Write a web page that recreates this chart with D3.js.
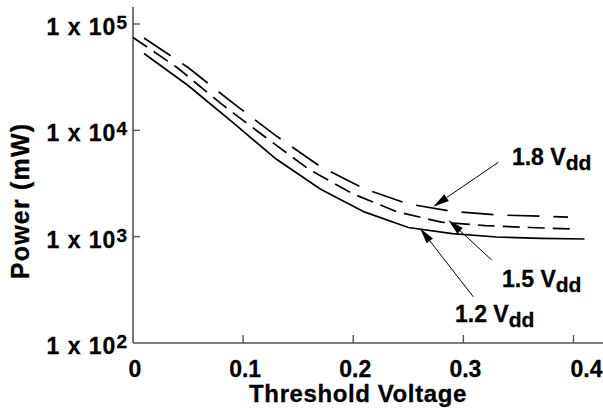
<!DOCTYPE html>
<html>
<head>
<meta charset="utf-8">
<script src="https://cdn.jsdelivr.net/npm/d3@7"></script>
<style>
  body { margin: 0; background: #fff; }
  svg text { font-family: "Liberation Sans", Arial, Helvetica, sans-serif; font-weight: bold; fill: #000; stroke: #000; stroke-width: 0.3px; }
</style>
</head>
<body>
<div id="chart"></div>
<script>
// series (threshold voltage vs power in mW)
const vt12 = [0.01, 0.05, 0.09, 0.13, 0.17, 0.21, 0.25, 0.29, 0.33, 0.37, 0.41];
const power12 = [52800, 26400, 12000, 5370, 2810, 1710, 1220, 1070, 993, 962, 951];
const vt15 = [0.00, 0.04, 0.08, 0.12, 0.16, 0.20, 0.24, 0.28, 0.32, 0.36, 0.40];
const power15 = [74700, 39000, 17800, 8650, 4280, 2520, 1710, 1370, 1270, 1220, 1180];
const vt18 = [0.01, 0.05, 0.09, 0.13, 0.17, 0.21, 0.25, 0.29, 0.33, 0.37, 0.395];
const power18 = [73800, 39000, 18300, 8860, 4570, 2820, 2030, 1730, 1600, 1560, 1530];

const xTicks = [0, 0.1, 0.2, 0.3, 0.4];
const xTickLabels = ['0', '0.1', '0.2', '0.3', '0.4'];
const yTicks = [100, 1000, 10000, 100000];
const yExponents = ['2', '3', '4', '5'];

const labels = ['1.2', '1.5', '1.8'];
// arrow tail / tip and label anchor, in data units
const arrowTail = [[0.309, 272], [0.3257, 604], [0.3317, 5000]];
const arrowTip = [[0.2606, 1200], [0.2863, 1435], [0.2727, 1915]];
const labelAt = [[0.2924, 157], [0.3351, 336], [0.3441, 4720]];

document.addEventListener('DOMContentLoaded', () => {
    const fullWidth = 603
    const fullHeight = 409
    const left = 133
    const bottom = 343

    const svg = d3.select('#chart')
        .append('svg')
        .attr('width', fullWidth)
        .attr('height', fullHeight);

    const x = d3.scaleLinear()
        .domain([0, 0.4])
        .range([left, 573.5]);
    const y = d3.scaleLog()
        .domain([100, 144500])
        .range([bottom, 7]);

    const axisColor = '#555';

    // x axis (line runs on to the right edge)
    svg.append('line')
        .attr('x1', left).attr('x2', fullWidth)
        .attr('y1', bottom).attr('y2', bottom)
        .attr('stroke', axisColor).attr('stroke-width', 1.6);
    svg.append('g')
        .selectAll('line')
        .data(xTicks.filter(d => d > 0))
        .enter()
        .append('line')
        .attr('x1', d => x(d)).attr('x2', d => x(d))
        .attr('y1', bottom).attr('y2', bottom - 8)
        .attr('stroke', axisColor).attr('stroke-width', 1.4);
    svg.append('g')
        .selectAll('text')
        .data(xTicks)
        .enter()
        .append('text')
        .attr('x', d => x(d))
        .attr('dx', d => d === 0.4 ? 13 : 2)
        .attr('y', 377)
        .attr('text-anchor', 'middle')
        .style('font-size', '23px')
        .text((d, i) => xTickLabels[i]);
    svg.append('text')
        .attr('x', 358)
        .attr('y', 402)
        .attr('text-anchor', 'middle')
        .style('font-size', '24px')
        .style('letter-spacing', '0.6px')
        .text('Threshold Voltage');

    // y axis
    svg.append('line')
        .attr('x1', left).attr('x2', left)
        .attr('y1', y.range()[1]).attr('y2', bottom)
        .attr('stroke', axisColor).attr('stroke-width', 1.6);
    svg.append('g')
        .selectAll('line')
        .data(yTicks.slice(1))
        .enter()
        .append('line')
        .attr('x1', left).attr('x2', left + 7)
        .attr('y1', d => y(d)).attr('y2', d => y(d))
        .attr('stroke', axisColor).attr('stroke-width', 1.4);
    const yLabels = svg.append('g')
        .selectAll('text')
        .data(yTicks)
        .enter()
        .append('text')
        .attr('x', 127)
        .attr('y', d => y(d) + 11)
        .attr('text-anchor', 'end')
        .style('font-size', '23px')
        .style('letter-spacing', '1px');
    yLabels.append('tspan').text('1 x 10');
    yLabels.append('tspan')
        .attr('dy', -6)
        .style('font-size', '19px')
        .style('letter-spacing', '0px')
        .text((d, i) => yExponents[i]);
    svg.append('text')
        .attr('transform', 'translate(29, 201) rotate(-90)')
        .attr('text-anchor', 'middle')
        .style('font-size', '25px')
        .style('letter-spacing', '1.2px')
        .text('Power (mW)');

    // curves
    const series = [
        { vt: vt12, power: power12, dash: null },
        { vt: vt15, power: power15, dash: '17,8' },
        { vt: vt18, power: power18, dash: '32,14' }
    ];
    const line = d3.line()
        .x(d => x(d[0]))
        .y(d => y(d[1]));
    svg.append('g')
        .selectAll('path')
        .data(series)
        .enter()
        .append('path')
        .attr('d', s => line(s.vt.map((v, i) => [v, s.power[i]])))
        .attr('fill', 'none')
        .attr('stroke', '#000')
        .attr('stroke-width', 1.7)
        .attr('stroke-dasharray', s => s.dash);

    // annotations: arrows + labels
    const arrows = svg.append('g');
    labels.forEach((name, i) => {
        const x0 = x(arrowTail[i][0]), y0 = y(arrowTail[i][1]);
        const x1 = x(arrowTip[i][0]), y1 = y(arrowTip[i][1]);
        const a = Math.atan2(y1 - y0, x1 - x0);
        const headLen = 16, headW = 4;
        const bx = x1 - headLen * Math.cos(a), by = y1 - headLen * Math.sin(a);
        arrows.append('line')
            .attr('x1', x0).attr('y1', y0)
            .attr('x2', bx).attr('y2', by)
            .attr('stroke', '#000').attr('stroke-width', 1);
        arrows.append('path')
            .attr('d', `M${x1},${y1}L${bx - headW * Math.sin(a)},${by + headW * Math.cos(a)}L${bx + headW * Math.sin(a)},${by - headW * Math.cos(a)}Z`)
            .attr('fill', '#000');

        const t = svg.append('text')
            .attr('x', x(labelAt[i][0]))
            .attr('y', y(labelAt[i][1]))
            .style('font-size', '23px');
        t.append('tspan').text(name + ' V');
        t.append('tspan')
            .attr('dy', 5)
            .style('font-size', '21px')
            .text('dd');
    });
});
</script>
</body>
</html>
